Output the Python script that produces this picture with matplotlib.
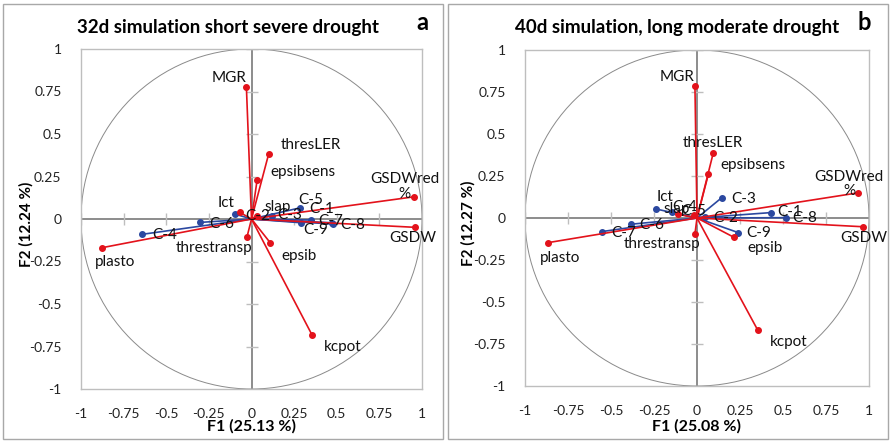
import matplotlib
matplotlib.use("Agg")
import matplotlib.pyplot as plt
import numpy as np
from matplotlib.patches import Circle, Rectangle

plt.rcParams['font.family'] = ['Lato', 'DejaVu Sans']

# ---------------- data ----------------
var_names = ["MGR", "thresLER", "epsibsens", "GSDWred\n%", "GSDW", "plasto",
             "Ict", "slap", "threstransp", "epsib", "kcpot"]
obs_names = ["C-1", "C-2", "C-3", "C-4", "C-5", "C-6", "C-7", "C-8", "C-9"]

a_var_x = [-0.03, 0.10, 0.033, 0.956, 0.96, -0.878, -0.07, 0.03, -0.027, 0.11, 0.354]
a_var_y = [0.778, 0.38, 0.23, 0.131, -0.049, -0.169, 0.04, 0.02, -0.108, -0.14, -0.68]
a_obs_x = [0.35, -0.094, 0.12, -0.64, 0.286, -0.30, 0.47, 0.48, 0.29]
a_obs_y = [-0.006, 0.028, 0.02, -0.09, 0.066, -0.02, -0.022, -0.03, -0.022]

b_var_x = [-0.012, 0.095, 0.066, 0.938, 0.963, -0.868, -0.11, -0.02, -0.012, 0.215, 0.353]
b_var_y = [0.786, 0.389, 0.26, 0.15, -0.052, -0.147, 0.022, 0.015, -0.095, -0.115, -0.667]
b_obs_x = [0.428, 0.047, 0.144, -0.24, -0.147, -0.384, -0.554, 0.52, 0.24]
b_obs_y = [0.032, 0.008, 0.121, 0.054, 0.034, -0.037, -0.081, 0.002, -0.087]

titles = ["32d simulation short severe drought", "40d simulation, long moderate drought"]
panel_letters = ["a", "b"]
xlabels = ["F1 (25.13 %)", "F1 (25.08 %)"]
ylabels = ["F2 (12.24 %)", "F2 (12.27 %)"]
ticks = [-1, -0.75, -0.5, -0.25, 0, 0.25, 0.5, 0.75, 1]
tick_labels = ["-1", "-0.75", "-0.5", "-0.25", "0", "0.25", "0.5", "0.75", "1"]

# ---------------- label placement (layout) ----------------
a_var_lab = {"MGR": (-0.129, 0.829), "thresLER": (0.35, 0.435), "epsibsens": (0.30, 0.278),
             "GSDWred\n%": (0.897, 0.19), "GSDW": (0.944, -0.112), "plasto": (-0.80, -0.251),
             "Ict": (-0.148, 0.092), "slap": (0.155, 0.072), "threstransp": (-0.217, -0.172),
             "epsib": (0.28, -0.218), "kcpot": (0.535, -0.751)}
a_obs_lab = {"C-1": (0.409, 0.057), "C-2": (0.037, 0.018), "C-3": (0.223, 0.024),
             "C-4": (-0.51, -0.094), "C-5": (0.35, 0.112), "C-6": (-0.174, -0.029),
             "C-7": (0.467, -0.01), "C-8": (0.594, -0.035), "C-9": (0.379, -0.065)}
b_var_lab = {"MGR": (-0.118, 0.837), "thresLER": (0.093, 0.446), "epsibsens": (0.327, 0.315),
             "GSDWred\n%": (0.884, 0.202), "GSDW": (0.967, -0.121), "plasto": (-0.797, -0.24),
             "Ict": (-0.186, 0.127), "slap": (-0.118, 0.052), "threstransp": (-0.205, -0.157),
             "epsib": (0.395, -0.18), "kcpot": (0.531, -0.736)}
b_obs_lab = {"C-1": (0.54, 0.038), "C-2": (0.169, -0.002), "C-3": (0.27, 0.111),
             "C-4": (-0.07, 0.067), "C-5": (-0.02, 0.042), "C-6": (-0.264, -0.042),
             "C-7": (-0.428, -0.087), "C-8": (0.628, -0.002), "C-9": (0.357, -0.091)}

RED = "#E3121B"
BLUE = "#2B48A0"
FRAME = "#BEBEBE"
ZERO = "#8C8C8C"

fig = plt.figure(figsize=(8.9, 4.42), dpi=100)
W, H = 890.0, 442.0

# panel borders
for (x0, x1) in [(3, 443), (448, 888)]:
    fig.patches.append(Rectangle((x0 / W, 1 - 439 / H), (x1 - x0) / W, (439 - 4) / H,
                                 transform=fig.transFigure, fill=False,
                                 edgecolor="#A8A8A8", lw=1.0))

rects = [(81, 49, 422, 389), (525, 50, 869, 386)]
panels = [
    (a_var_x, a_var_y, a_obs_x, a_obs_y, a_var_lab, a_obs_lab),
    (b_var_x, b_var_y, b_obs_x, b_obs_y, b_var_lab, b_obs_lab),
]
title_x = [228, 677]
letter_x = [422, 864]
ylab_x = [26, 468]

for i, ((l, t, r, b), (vx, vy, ox, oy, vlab, olab)) in enumerate(zip(rects, panels)):
    ax = fig.add_axes([l / W, 1 - b / H, (r - l) / W, (b - t) / H])
    ax.set_xlim(-1, 1)
    ax.set_ylim(-1, 1)
    for s in ax.spines.values():
        s.set_color(FRAME)
        s.set_linewidth(1.0)
    ax.set_xticks(ticks)
    ax.set_xticklabels(tick_labels)
    ax.set_yticks(ticks)
    ax.set_yticklabels(tick_labels)
    ax.tick_params(length=0, labelsize=10, colors="#222222")
    ax.tick_params(axis="x", pad=14)
    ax.tick_params(axis="y", pad=14)

    # unit circle
    ax.add_patch(Circle((0, 0), 1, fill=False, edgecolor="#8A8A8A", lw=0.7, zorder=1))
    # zero lines with cross ticks
    ax.axhline(0, color=ZERO, lw=1.4, zorder=2)
    ax.axvline(0, color=ZERO, lw=1.4, zorder=2)
    tk = np.array(ticks, dtype=float)
    ax.plot(tk, np.zeros_like(tk), ls="none", marker="|", ms=9, mew=1.0, color=FRAME, zorder=2)
    ax.plot(np.zeros_like(tk), tk, ls="none", marker="_", ms=9, mew=1.0, color=FRAME, zorder=2)

    # observations (blue)
    for x, y in zip(ox, oy):
        ax.plot([0, x], [0, y], color=BLUE, lw=1.2, zorder=3)
    ax.plot(ox, oy, ls="none", marker="o", ms=4, color=BLUE, zorder=4)
    # variables (red)
    for x, y in zip(vx, vy):
        ax.plot([0, x], [0, y], color=RED, lw=1.2, zorder=5)
    ax.plot(vx, vy, ls="none", marker="o", ms=4, color=RED, zorder=6)

    for name in obs_names:
        px, py = olab[name]
        ax.text(px, py, name, fontsize=11, ha="center", va="center", color="#111111",
                zorder=7, clip_on=False)
    for name in var_names:
        px, py = vlab[name]
        ax.text(px, py, name, fontsize=11, ha="center", va="center", color="#111111",
                zorder=7, clip_on=False, linespacing=1.05)

    ax.set_xlabel(xlabels[i], fontsize=11.5, fontweight="bold")
    ax.xaxis.set_label_coords(0.5, (b - 419) / (b - t))
    ax.set_ylabel(ylabels[i], fontsize=11, fontweight="bold", va="center")
    ax.yaxis.set_label_coords((ylab_x[i] - l) / (r - l), 0.485)
    fig.text(title_x[i] / W, 1 - 28 / H, titles[i], fontsize=13.5, fontweight="bold",
             ha="center", va="center")
    fig.text(letter_x[i] / W, 1 - 23 / H, panel_letters[i], fontsize=17, fontweight="bold",
             ha="center", va="center")

fig.savefig("out.png", dpi=100)
